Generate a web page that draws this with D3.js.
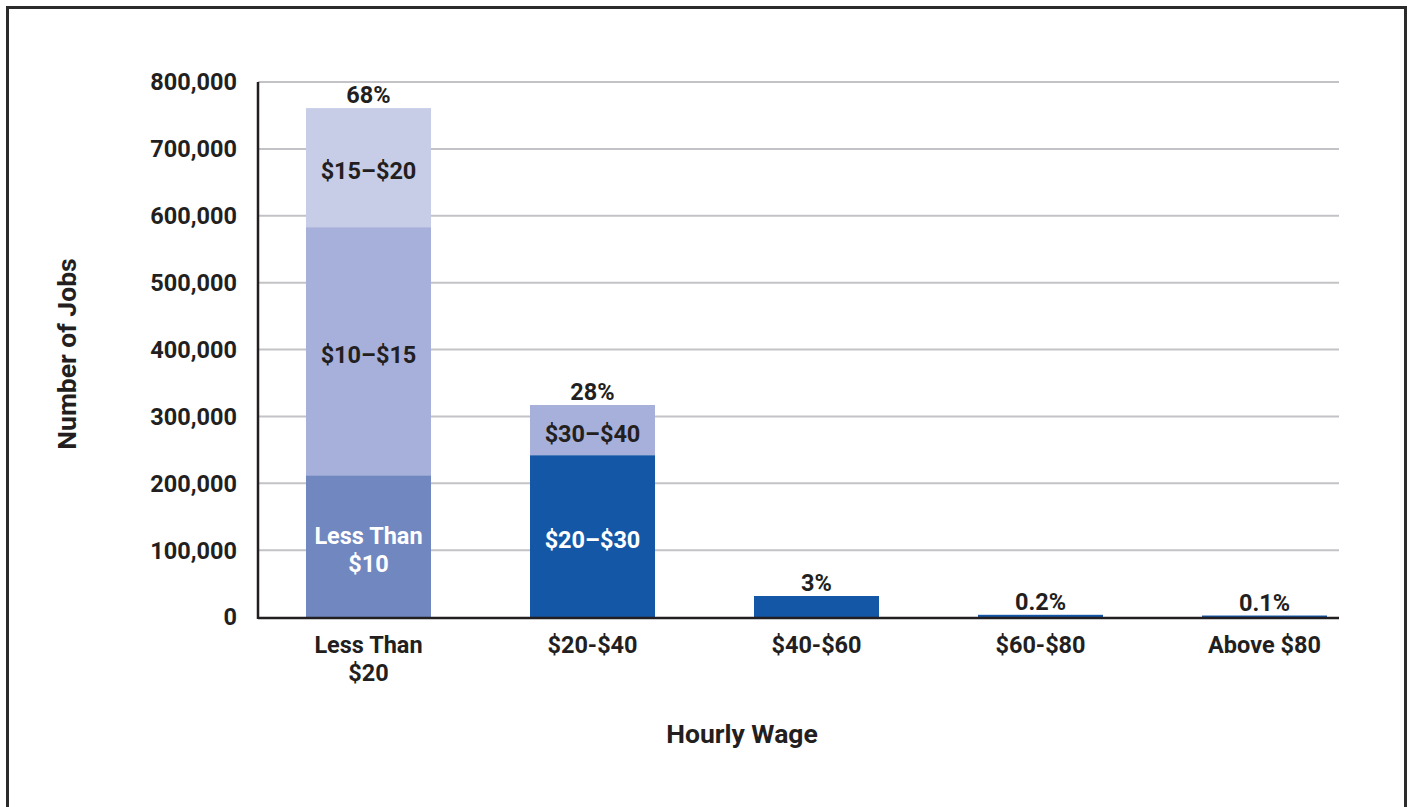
<!DOCTYPE html>
<html><head><meta charset="utf-8">
<script src="https://cdn.jsdelivr.net/npm/d3@7"></script>
<style>
html,body{margin:0;padding:0;background:#fff;}
svg{display:block;font-family:Roboto,"Liberation Sans",sans-serif;font-weight:700;}
</style></head>
<body><svg id="chart" width="1413" height="807"></svg>
<script>
const categories = ["Less Than\n$20", "$20-$40", "$40-$60", "$60-$80", "Above $80"];
// stacked segments per category: [label, value, colorKey]
const segLessThan20 = [["Less Than\n$10", 212000, "mid"], ["$10–$15", 371000, "light"], ["$15–$20", 178000, "pale"]];
const seg20to40 = [["$20–$30", 242000, "dark"], ["$30–$40", 75000, "light"]];
const seg40to60 = [["", 31400, "dark"]];
const seg60to80 = [["", 3300, "dark"]];
const segAbove80 = [["", 2200, "dark"]];
const percentLabels = ["68%", "28%", "3%", "0.2%", "0.1%"];
const yTicks = [0, 100000, 200000, 300000, 400000, 500000, 600000, 700000, 800000];

const segments = [segLessThan20, seg20to40, seg40to60, seg60to80, segAbove80];
const colors = {mid: "#7087c0", light: "#a7b0da", pale: "#c8cde7", dark: "#1457a6"};
const labelColor = {mid: "#ffffff", light: "#231f20", pale: "#231f20", dark: "#ffffff"};

const svg = d3.select("#chart");
const ink = "#231f20";
const FS = 23.5;

// frame
svg.append("path").attr("d", "M7.5,830 V7.5 H1405.5 V830").attr("fill", "none").attr("stroke", "#2b2b2b").attr("stroke-width", 3);

const x0 = 258, x1 = 1339;
const y = d3.scaleLinear().domain([0, 800000]).range([617, 82]);
const x = d3.scaleBand().domain(categories).range([256.5, 1376.5]).paddingInner(0.442).paddingOuter(0.221);

// gridlines
svg.append("g").selectAll("line").data(yTicks.filter(d => d > 0)).join("line")
  .attr("x1", x0).attr("x2", x1).attr("y1", d => y(d)).attr("y2", d => y(d))
  .attr("stroke", "#c3c3c7").attr("stroke-width", 2);

// y tick labels
const fmt = d3.format(",");
svg.append("g").selectAll("text").data(yTicks).join("text")
  .attr("x", 237).attr("y", d => y(d)).attr("dy", "0.36em").attr("text-anchor", "end")
  .attr("font-size", FS).attr("fill", ink).text(d => fmt(d));

// bars
segments.forEach((segs, i) => {
  const cat = categories[i];
  let cum = 0;
  segs.forEach(([lab, v, key]) => {
    const y0v = cum, y1v = cum + v; cum = y1v;
    svg.append("rect").attr("x", x(cat)).attr("width", x.bandwidth())
      .attr("y", y(y1v)).attr("height", y(y0v) - y(y1v)).attr("fill", colors[key]);
    if (lab) {
      const lines = lab.split("\n");
      const cy = (y(y0v) + y(y1v)) / 2 + 3;
      const t = svg.append("text").attr("text-anchor", "middle").attr("font-size", FS)
        .attr("fill", labelColor[key]);
      lines.forEach((ln, k) => {
        t.append("tspan").attr("x", x(cat) + x.bandwidth() / 2)
          .attr("y", cy + (k - (lines.length - 1) / 2) * 28).attr("dy", "0.36em").text(ln);
      });
    }
  });
  svg.append("text").attr("x", x(cat) + x.bandwidth() / 2).attr("y", y(cum) - 5)
    .attr("text-anchor", "middle").attr("font-size", FS).attr("fill", ink).text(percentLabels[i]);
});

// axes lines
svg.append("line").attr("x1", x0).attr("x2", x0).attr("y1", 82).attr("y2", 619).attr("stroke", ink).attr("stroke-width", 2.5);
svg.append("line").attr("x1", x0).attr("x2", x1).attr("y1", y(0) + 1).attr("y2", y(0) + 1).attr("stroke", ink).attr("stroke-width", 2.5);

// x tick labels
categories.forEach(cat => {
  const lines = cat.split("\n");
  const t = svg.append("text").attr("text-anchor", "middle").attr("font-size", FS).attr("fill", ink);
  lines.forEach((ln, k) => {
    t.append("tspan").attr("x", x(cat) + x.bandwidth() / 2).attr("y", 645 + k * 28).attr("dy", "0.36em").text(ln);
  });
});

// axis titles
svg.append("text").attr("x", 742).attr("y", 733).attr("dy", "0.36em").attr("text-anchor", "middle")
  .attr("font-size", 26.5).attr("fill", ink).text("Hourly Wage");
svg.append("text").attr("transform", "translate(66,354) rotate(-90)").attr("dy", "0.36em")
  .attr("text-anchor", "middle").attr("font-size", 26.5).attr("fill", ink).text("Number of Jobs");
</script></body></html>
